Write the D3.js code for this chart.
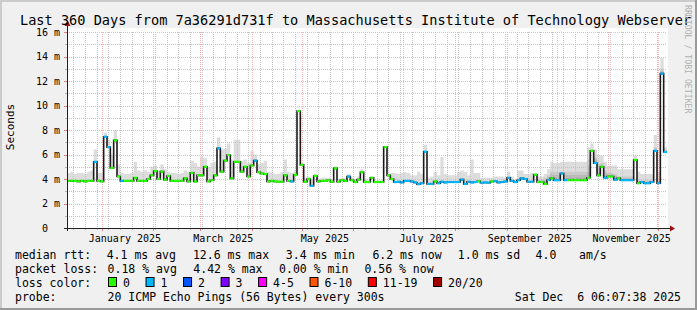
<!DOCTYPE html>
<html>
<head>
<meta charset="utf-8">
<script src="https://cdn.jsdelivr.net/npm/d3@7"></script>
<style>
  html, body { margin: 0; padding: 0; background: #f0f0f0; }
  svg { display: block; }
  text { font-family: "DejaVu Sans Mono", monospace; white-space: pre; }
</style>
</head>
<body>
<div id="chart"></div>
<script>
// --- data (2-day bins, values in ms) ---
const titleText = "Last 360 Days from 7a36291d731f to Massachusetts Institute of Technology Webserver";
const yTicks = [0, 2, 4, 6, 8, 10, 12, 14, 16];
const endTime = Date.UTC(2025, 11, 6, 6, 7, 38);
const spanDays = 360;
const binDays = 2;

const median = [
  3.85,3.85,3.85,3.8,3.85,3.8,3.85,3.85,5.4,3.85,
  3.8,7.45,6.6,4.9,7.15,4.2,3.85,3.85,3.85,3.85,
  4.1,3.85,3.85,3.85,4.0,4.3,4.65,4.0,4.6,3.95,
  4.25,3.85,3.85,3.85,3.85,4.05,3.8,4.5,3.8,4.3,
  4.3,5.0,3.8,3.9,4.3,6.5,4.6,5.5,5.95,4.05,
  5.4,5.4,4.6,5.0,4.2,5.1,5.5,4.55,4.45,4.4,
  3.8,3.85,3.8,3.78,3.78,4.3,3.85,3.8,4.35,9.55,
  5.15,3.78,4.0,3.45,4.25,3.8,3.85,3.85,3.9,3.78,
  4.87,3.78,3.9,3.85,4.2,3.9,3.75,3.95,4.55,3.75,
  3.75,4.1,3.75,3.75,3.75,6.6,4.3,4.0,3.75,3.78,
  3.72,3.85,3.85,3.8,3.72,3.58,3.65,6.23,3.6,3.6,
  3.8,3.65,3.78,3.72,3.75,3.75,3.75,3.75,3.95,3.6,
  3.78,3.72,3.75,3.82,3.7,3.72,3.7,3.8,3.82,3.72,
  3.75,3.8,4.1,3.85,3.75,3.9,4.05,4.0,3.78,3.78,
  4.35,3.75,3.75,3.6,3.92,4.05,3.9,3.9,4.45,3.9,
  3.9,3.9,3.9,3.9,3.9,3.9,4.1,6.3,5.3,4.3,
  5.0,4.1,4.2,4.2,3.95,4.05,3.9,3.9,3.9,3.9,
  5.55,3.65,3.75,3.65,3.65,3.75,6.3,3.65,12.6,6.2
];

// loss class index per bin (0 = no loss, 1 = 1/20 ...)
const loss = [
  0,0,0,0,0,0,0,0,1,0,
  0,1,1,0,0,0,1,0,0,0,
  0,0,0,0,0,0,0,0,0,0,
  0,0,0,0,0,0,0,0,0,0,
  0,0,0,0,0,1,0,0,0,0,
  0,0,0,0,0,0,1,0,0,0,
  0,0,0,0,0,0,0,1,0,0,
  0,0,0,1,0,0,0,0,0,0,
  0,0,0,0,1,0,0,0,0,0,
  0,0,0,0,0,0,0,0,1,1,
  1,1,1,1,1,1,1,1,1,1,
  0,1,1,1,1,1,1,1,1,1,
  1,1,1,0,1,1,1,0,1,1,
  1,1,1,1,1,1,1,1,1,1,
  0,0,0,0,1,0,1,1,1,1,
  0,0,0,0,0,0,0,0,1,0,
  0,1,0,0,1,0,1,1,1,1,
  0,0,1,1,1,1,1,1,1,1
];

// top of the smoke (slowest ping) per bin
const smokeHigh = [
  4.5,4.6,4.4,4.5,4.5,4.4,4.6,4.7,6.4,4.5,
  4.5,7.8,7.2,6.0,8.0,5.2,4.5,4.4,4.4,4.5,
  5.4,4.7,4.6,4.7,4.6,5.0,5.1,4.7,5.2,4.8,
  4.6,4.5,4.5,4.4,4.5,4.7,4.6,5.5,5.3,5.0,
  5.8,5.7,5.0,5.3,5.4,7.4,6.4,6.5,6.9,5.6,
  7.2,7.2,5.5,5.6,5.3,6.3,6.0,5.2,5.3,5.5,
  4.6,4.5,4.4,4.4,4.6,5.6,4.6,4.5,4.7,9.6,
  5.3,4.1,4.2,4.0,4.4,4.0,4.1,4.1,4.1,4.0,
  5.0,4.0,4.1,4.1,4.4,4.1,4.0,4.2,4.8,4.0,
  3.9,4.2,3.9,3.9,3.9,6.7,4.4,4.5,4.5,4.4,
  4.5,4.55,4.5,4.3,4.3,4.6,4.4,6.8,4.1,4.2,
  4.6,4.3,5.8,4.4,4.3,4.3,4.3,4.6,4.7,4.6,
  4.3,5.6,4.5,4.5,4.1,4.1,4.1,4.1,4.2,4.2,
  4.2,4.1,4.6,4.2,4.0,4.7,4.7,4.4,4.4,4.5,
  4.5,4.2,4.2,4.4,4.8,5.4,5.3,5.3,5.4,5.4,
  5.4,5.4,5.4,5.4,5.4,5.4,6.6,6.9,6.4,6.0,
  5.9,5.4,5.1,5.1,5.1,4.8,4.8,4.8,4.8,4.8,
  5.9,4.6,4.4,4.4,4.4,4.4,7.6,4.6,13.9,6.6
];

// denser (darker) smoke in the last months
const denseStart = 140;
const smokeDense = [
  4.1,4.0,4.0,4.1,4.3,4.6,4.6,4.6,4.6,4.6,
  4.6,4.6,4.6,4.6,4.6,4.6,5.6,6.4,5.8,5.2,
  5.3,4.7,4.5,4.5,4.4,4.2,4.2,4.2,4.2,4.2,
  5.6,4.0,3.9,3.9,3.9,3.9,6.6,4.0,13.0,6.4
];

const lossLabels = ["0", "1", "2", "3", "4-5", "6-10", "11-19", "20/20"];
const lossColors = ["#26ff00", "#00b8ff", "#0059ff", "#7e00ff", "#ff00ff", "#ff5500", "#ff0000", "#a10000"];
const rttStats = ["4.1 ms avg", "12.6 ms max", "3.4 ms min", "6.2 ms now", "1.0 ms sd", "4.0", "am/s"];
const lossStats = ["0.18 % avg", "4.42 % max", "0.00 % min", "0.56 % now"];
const probeText = "20 ICMP Echo Pings (56 Bytes) every 300s";
const stampText = "Sat Dec  6 06:07:38 2025";

// --- layout ---
const width = 697, height = 310;
const x0 = 67, x1 = 667, yTop = 32, yBot = 228;
const day = 864e5;
const end = new Date(endTime);
const start = new Date(endTime - spanDays * day);

const x = d3.scaleUtc().domain([start, end]).range([x0, x1]);
const y = d3.scaleLinear().domain([0, 16]).range([yBot, yTop]);

const bins = median.map((v, i) => ({
  i,
  t0: new Date(+start + i * binDays * day),
  t1: new Date(+start + (i + 1) * binDays * day),
  v,
  loss: loss[i],
  hi: Math.max(smokeHigh[i], v),
  dense: i >= denseStart ? Math.max(smokeDense[i - denseStart], v) : v
}));
const steps = bins.concat([{ ...bins[bins.length - 1], t0: end }]);

const svg = d3.select("#chart").append("svg")
  .attr("width", width)
  .attr("height", height)
  .attr("viewBox", [0, 0, width, height]);

// frame
svg.append("rect").attr("width", width).attr("height", height).attr("fill", "#f0f0f0");
svg.append("path").attr("d", `M0,${height}V0H${width}`).attr("fill", "none")
  .attr("stroke", "#cbcbcb").attr("stroke-width", 4);
svg.append("path").attr("d", `M0,${height}H${width}V0`).attr("fill", "none")
  .attr("stroke", "#999999").attr("stroke-width", 4);

// canvas
svg.append("rect").attr("x", x0).attr("y", 28).attr("width", x1 - x0 + 1).attr("height", yBot - 28)
  .attr("fill", "#ffffff");

// smoke
const smokeArea = (lo, hi) => d3.area().curve(d3.curveStepAfter)
  .x(d => x(d.t0)).y0(d => y(lo(d))).y1(d => y(hi(d)));

svg.append("path").datum(steps).attr("fill", "#dddddd")
  .attr("d", smokeArea(d => d.v, d => d.hi));

const denseSteps = steps.filter(d => d.i >= denseStart);
const shades = ["#a9a9a9", "#bababa", "#cacaca"];
shades.forEach((c, k) => {
  svg.append("path").datum(denseSteps).attr("fill", c)
    .attr("d", smokeArea(d => d.v + (d.dense - d.v) * k / 3, d => d.v + (d.dense - d.v) * (k + 1) / 3));
});

// grid
const grid = svg.append("g").attr("fill", "none").attr("stroke-dasharray", "1,1");
const weeks = d3.utcSunday.range(start, end);
const months = d3.utcMonth.range(start, end);
d3.range(1, 17).filter(v => v % 2).forEach(v => {
  grid.append("line").attr("x1", x0).attr("x2", x1).attr("y1", Math.round(y(v)) + 0.5).attr("y2", Math.round(y(v)) + 0.5)
    .attr("stroke", "#c4c4c4");
});
weeks.forEach(t => {
  const px = Math.round(x(t)) + 0.5;
  grid.append("line").attr("x1", px).attr("x2", px).attr("y1", yTop).attr("y2", yBot)
    .attr("stroke", "#c4c4c4");
});
yTicks.filter(v => v > 0).forEach(v => {
  grid.append("line").attr("x1", x0).attr("x2", x1).attr("y1", Math.round(y(v)) + 0.5).attr("y2", Math.round(y(v)) + 0.5)
    .attr("stroke", "#f4b4b4");
});
months.forEach(t => {
  const px = Math.round(x(t)) + 0.5;
  grid.append("line").attr("x1", px).attr("x2", px).attr("y1", yTop).attr("y2", yBot)
    .attr("stroke", "#f4b4b4");
});

// ticks on axes
const ticks = svg.append("g");
d3.range(1, 17).forEach(v => {
  const py = Math.round(y(v)) + 0.5;
  const major = v % 2 === 0;
  ticks.append("line").attr("x1", x0 - (major ? 3 : 2)).attr("x2", x0).attr("y1", py).attr("y2", py)
    .attr("stroke", major ? "#e08080" : "#b8b8b8");
});
weeks.forEach(t => {
  const px = Math.round(x(t)) + 0.5;
  ticks.append("line").attr("x1", px).attr("x2", px).attr("y1", yBot).attr("y2", yBot + 2).attr("stroke", "#b8b8b8");
});
months.forEach(t => {
  const px = Math.round(x(t)) + 0.5;
  ticks.append("line").attr("x1", px).attr("x2", px).attr("y1", yBot).attr("y2", yBot + 3).attr("stroke", "#e08080");
});

// median: dark step line, then loss-coloured pieces
svg.append("path").datum(steps).attr("fill", "none").attr("stroke", "#1a1a1a").attr("stroke-width", 1.6)
  .attr("d", d3.line().curve(d3.curveStepAfter).x(d => x(d.t0)).y(d => y(d.v)));

svg.append("g").selectAll("line").data(bins).join("line")
  .attr("x1", d => x(d.t0)).attr("x2", d => x(d.t1))
  .attr("y1", d => y(d.v)).attr("y2", d => y(d.v))
  .attr("stroke", d => lossColors[d.loss]).attr("stroke-width", 2.2);

// axes with arrows
svg.append("line").attr("x1", x0 - 3).attr("x2", x1 + 3).attr("y1", yBot + 0.5).attr("y2", yBot + 0.5)
  .attr("stroke", "#202020");
svg.append("line").attr("x1", x0 + 0.5).attr("x2", x0 + 0.5).attr("y1", yBot + 3).attr("y2", 26)
  .attr("stroke", "#202020");
svg.append("path").attr("d", `M${x1 + 3},${yBot - 2.5}L${x1 + 8},${yBot + 0.5}L${x1 + 3},${yBot + 3.5}Z`)
  .attr("fill", "#9a1010");
svg.append("path").attr("d", `M${x0 - 2.5},26L${x0 + 0.5},20.5L${x0 + 3.5},26Z`)
  .attr("fill", "#9a1010");

// y labels
svg.append("g").selectAll("text").data(yTicks).join("text")
  .attr("x", 60).attr("y", d => y(d) + 3.5)
  .attr("text-anchor", "end").attr("font-size", 10)
  .text(d => d === 0 ? "0  " : `${d} m`);

// x labels, centred in the middle of each labelled month
svg.append("g").selectAll("text").data(d3.utcMonth.every(2).range(start, end)).join("text")
  .attr("x", d => x(d3.utcDay.offset(d, 14)))
  .attr("y", 242)
  .attr("text-anchor", "middle").attr("font-size", 10)
  .text(d => d3.utcFormat("%B %Y")(d));

// titles
svg.append("text").attr("x", 20).attr("y", 25).attr("font-size", 13.6).text(titleText);
svg.append("text").attr("transform", "translate(14,127) rotate(-90)")
  .attr("text-anchor", "middle").attr("font-size", 11).text("Seconds");
svg.append("text").attr("transform", "translate(685,5) rotate(90)")
  .attr("font-size", 8.2).attr("fill", "#b0b0b0").text("RRDTOOL / TOBI OETIKER");

// legend
const leg = svg.append("g").attr("font-size", 11.5);
const rowY = [258.5, 272.5, 286.5, 300.5];
leg.append("text").attr("x", 15).attr("y", rowY[0]).text("median rtt:");
[106.7, 192.9, 285.8, 372.4, 457.8, 535.6, 579.1].forEach((px, k) => {
  leg.append("text").attr("x", px).attr("y", rowY[0]).text(rttStats[k]);
});
leg.append("text").attr("x", 15).attr("y", rowY[1]).text("packet loss:");
[107.6, 193.3, 279.1, 364.4].forEach((px, k) => {
  leg.append("text").attr("x", px).attr("y", rowY[1]).text(lossStats[k]);
});
leg.append("text").attr("x", 15).attr("y", rowY[2]).text("loss color:");
const charW = 6.93;
let bx = 108;
lossLabels.forEach((lab, k) => {
  leg.append("rect").attr("x", bx + 0.5).attr("y", 277.5).attr("width", 8).attr("height", 9)
    .attr("fill", lossColors[k]).attr("stroke", "#000").attr("stroke-width", 1);
  leg.append("text").attr("x", bx + 15).attr("y", rowY[2]).text(lab);
  bx = bx + 15 + lab.length * charW + 15.6;
});
leg.append("text").attr("x", 15).attr("y", rowY[3]).text("probe:");
leg.append("text").attr("x", 107.6).attr("y", rowY[3]).text(probeText);
leg.append("text").attr("x", 681).attr("y", rowY[3]).attr("text-anchor", "end").text(stampText);
</script>
</body>
</html>
